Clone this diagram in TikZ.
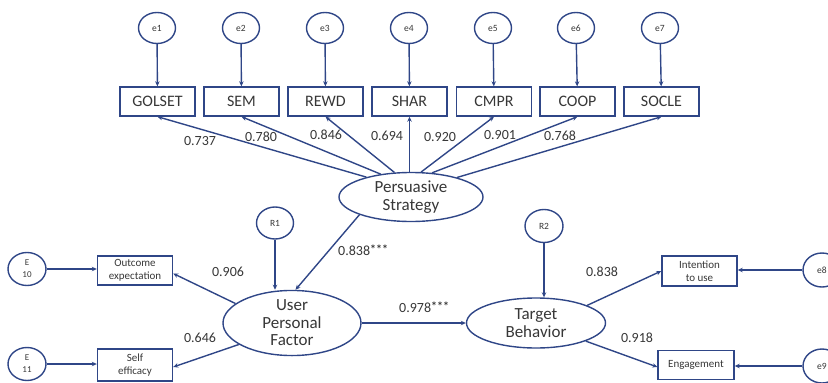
\documentclass[tikz,border=0pt]{standalone}
\usepackage{fontspec}
\setmainfont{Carlito}
\usetikzlibrary{shapes.geometric,arrows.meta}
\definecolor{ln}{RGB}{47,70,135}
\definecolor{tx}{RGB}{55,55,55}
\newcommand{\stars}{\raisebox{0.35ex}{\fontsize{12}{12}\selectfont\bfseries ***}}
\begin{document}
\begin{tikzpicture}[x=1pt,y=-1pt,
  every node/.style={text=tx},
  err/.style={draw=ln,line width=1.4pt,ellipse,inner sep=0pt,minimum width=37pt,minimum height=31pt,font=\fontsize{9.5}{10}\selectfont},
  obs/.style={draw=ln,line width=1.4pt,rectangle,inner sep=0pt,minimum width=75pt,minimum height=29pt,font=\fontsize{16}{18}\selectfont},
  sobs/.style={draw=ln,line width=1.4pt,rectangle,inner sep=0pt,minimum width=75pt,minimum height=29pt,align=center,font=\fontsize{11}{13}\selectfont},
  lat/.style={draw=ln,line width=1.4pt,ellipse,inner sep=0pt,minimum width=140pt,minimum height=49pt,align=center,font=\fontsize{17}{18.5}\selectfont},
  arr/.style={draw=ln,line width=1.4pt,-{Stealth[length=5pt,width=4.5pt]}},
  lbl/.style={font=\fontsize{14}{16}\selectfont,inner sep=0pt}]
\clip (0,0) rectangle (828,383);
\useasboundingbox (0,0) rectangle (828,383);
% top error terms
\foreach \n/\x in {1/157,2/241,3/325,4/409,5/493,6/576,7/660}{
  \node[err] (e\n) at (\x,28) {e\n};
}
\node[obs] (b1) at (157.5,101.5) {GOLSET};
\node[obs] (b2) at (241.5,101.5) {SEM};
\node[obs] (b3) at (325.5,101.5) {REWD};
\node[obs] (b4) at (409.5,101.5) {SHAR};
\node[obs] (b5) at (494,101.5) {CMPR};
\node[obs] (b6) at (577.5,101.5) {COOP};
\node[obs] (b7) at (661.5,101.5) {SOCLE};
\foreach \n in {1,...,7}{ \draw[arr] (e\n) -- (b\n); }
% persuasive strategy
\node[lat,minimum width=144pt] (ps) at (411,197) {Persuasive\\Strategy};
\draw[arr] (ps.156) -- (b1.south);
\draw[arr] (ps.143) -- (b2.south);
\draw[arr] (ps.124) -- (b3.south);
\draw[arr] (ps.north -| b4.south) -- (b4.south);
\draw[arr] (ps.68) -- (b5.south);
\draw[arr] (ps.49) -- (b6.south);
\draw[arr] (ps.23) -- (b7.south);
\node[lbl] (l1) at (200,141) {0.737};
\node[lbl] (l2) at (261,137) {0.780};
\node[lbl] (l3) at (326,135) {0.846};
\node[lbl] (l4) at (387,136) {0.694};
\node[lbl] (l5) at (440,137) {0.920};
\node[lbl] (l6) at (500,135) {0.901};
\node[lbl] (l7) at (560,136) {0.768};
% user personal factor
\node[lat,minimum width=138pt,font=\fontsize{17}{17.5}\selectfont] (upf) at (292,323) {User\\Personal\\Factor};
\node[err,minimum height=32pt] (r1) at (275,223) {R1};
\draw[arr] (r1) -- (upf.north -| r1);
\draw[arr] (ps.199) -- (upf.84);
\node[lbl,anchor=west] (l838) at (338,250) {0.838\stars};
\node[sobs] (oe) at (135,270.5) {Outcome\\expectation};
\node[sobs,minimum height=32pt] (se) at (135,365) {Self\\efficacy};
\node[err,minimum width=38pt,minimum height=33pt,align=center,font=\fontsize{9}{12}\selectfont] (e10) at (27,269) {E\\10};
\node[err,minimum width=38pt,minimum height=33pt,align=center,font=\fontsize{9}{12}\selectfont] (e11) at (27,364) {E\\11};
\draw[arr] (e10) -- (oe.west |- e10);
\draw[arr] (e11) -- (se.west |- e11);
\draw[arr] (upf.161) -- ([yshift=-3pt]oe.east);
\draw[arr] (upf.202) -- ([yshift=-2pt]se.east);
\node[lbl] (l906) at (228,272) {0.906};
\node[lbl] (l646) at (200,338) {0.646};
% target behavior
\node[lat,minimum width=139pt,minimum height=50pt] (tb) at (536,323) {Target\\Behavior};
\node[err,minimum width=38pt,minimum height=33pt] (r2) at (544,226) {R2};
\draw[arr] (r2) -- (tb.north -| r2);
\draw[arr] (upf.east) -- (tb.west);
\node[lbl,anchor=west] (l978) at (399,307) {0.978\stars};
\node[sobs,minimum height=30pt] (it) at (699.5,271) {Intention\\to use};
\node[sobs,minimum width=76pt,minimum height=29pt] (en) at (696,365) {Engagement};
\node[err,minimum width=38pt,minimum height=34pt] (e8) at (822,270) {e8};
\node[err,minimum width=38pt,minimum height=34pt] (e9) at (822,366) {e9};
\draw[arr] (e8) -- (it.east |- e8);
\draw[arr] (e9) -- (en.east |- e9);
\draw[arr] (tb.19) -- (it.west);
\draw[arr] (tb.340) -- ([yshift=-2pt]en.west);
\node[lbl] (l838b) at (602,272) {0.838};
\node[lbl] (l918) at (637,338) {0.918};
\end{tikzpicture}
\end{document}
